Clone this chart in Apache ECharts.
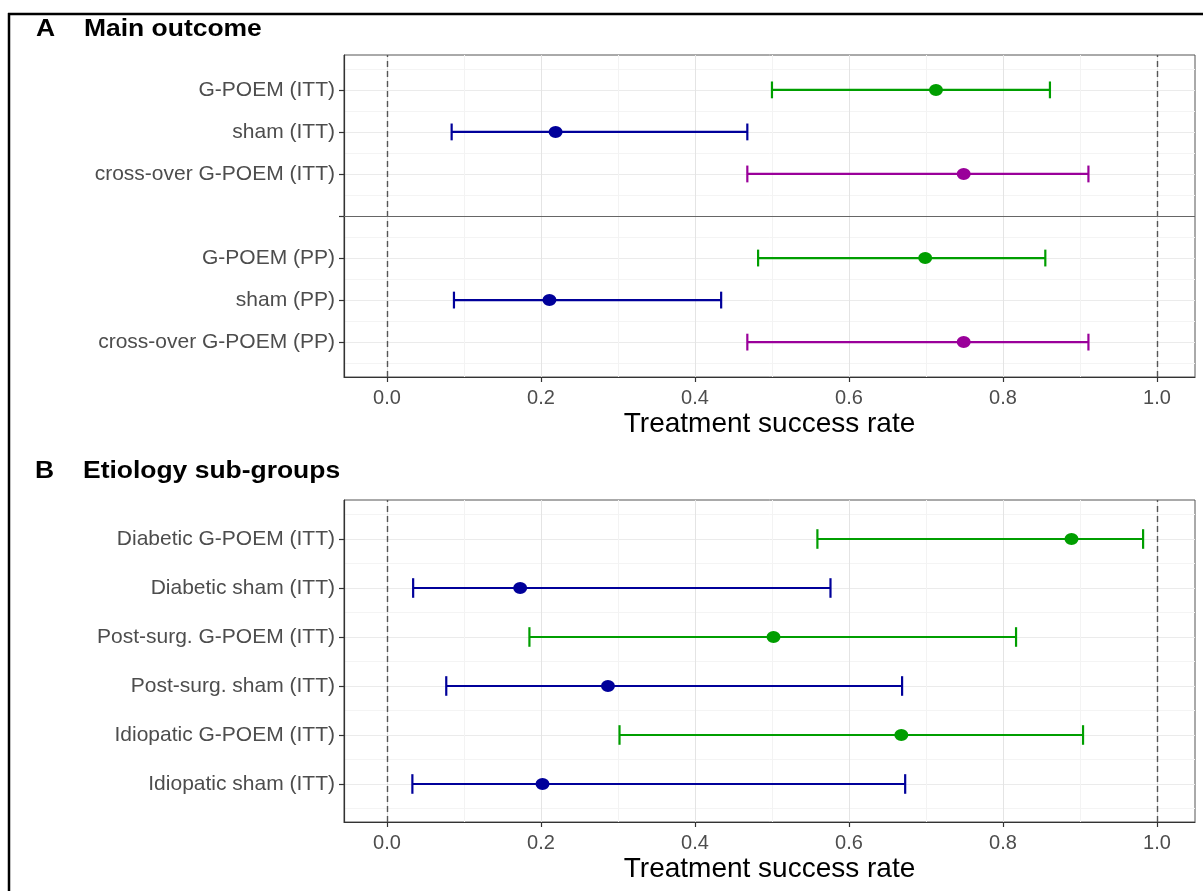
<!DOCTYPE html>
<html>
<head>
<meta charset="utf-8">
<script src="https://cdn.jsdelivr.net/npm/echarts@6/dist/echarts.min.js"></script>
<style>
html,body{margin:0;padding:0;background:#fff;}
#chart{width:1203px;height:891px;}
</style>
</head>
<body>
<div id="chart"></div>
<script>
// ---- Data ----
const panelTitleA = 'Main outcome';
const panelTitleB = 'Etiology sub-groups';
const axisTitle = 'Treatment success rate';

// Panel A (top to bottom; a blank row separates ITT from PP)
const catsA = ['G-POEM (ITT)', 'sham (ITT)', 'cross-over G-POEM (ITT)', 'G-POEM (PP)', 'sham (PP)', 'cross-over G-POEM (PP)'];
const groupA = ['G-POEM', 'sham', 'cross-over', 'G-POEM', 'sham', 'cross-over'];
const estA  = [0.713, 0.219, 0.749, 0.699, 0.211, 0.749];
const lowA  = [0.500, 0.084, 0.468, 0.482, 0.087, 0.468];
const highA = [0.861, 0.468, 0.911, 0.855, 0.434, 0.911];

// Panel B (top to bottom)
const catsB = ['Diabetic G-POEM (ITT)', 'Diabetic sham (ITT)', 'Post-surg. G-POEM (ITT)', 'Post-surg. sham (ITT)', 'Idiopatic G-POEM (ITT)', 'Idiopatic sham (ITT)'];
const groupB = ['G-POEM', 'sham', 'G-POEM', 'sham', 'G-POEM', 'sham'];
const estB  = [0.889, 0.173, 0.502, 0.287, 0.668, 0.202];
const lowB  = [0.559, 0.034, 0.185, 0.077, 0.302, 0.033];
const highB = [0.982, 0.576, 0.817, 0.669, 0.904, 0.673];

const xTicks = [0, 0.2, 0.4, 0.6, 0.8, 1.0];
const refLines = [0, 1];

// ---- Styling ----
const groupColors = { 'G-POEM': '#009E00', 'sham': '#00009A', 'cross-over': '#9A009A' };
const FONT = 'Liberation Sans, Arial, Helvetica, sans-serif';

// row positions on the y scale
const rowsA = catsA.map((c, i) => (i < 3 ? 7 - i : 6 - i));  // 7,6,5 | 3,2,1
const rowsB = catsB.map((c, i) => catsB.length - i);         // 6..1

const labelMapA = {}; catsA.forEach((c, i) => { labelMapA[rowsA[i]] = c; });
const labelMapB = {}; catsB.forEach((c, i) => { labelMapB[rowsB[i]] = c; });

function xAxisFor(gridIndex) {
  return {
    type: 'value', gridIndex: gridIndex,
    min: -0.0558, max: 1.0494, splitNumber: 5,
    name: axisTitle, nameLocation: 'middle', nameGap: 33,
    nameTextStyle: { fontSize: 28, color: '#000', fontFamily: FONT },
    axisLine: { show: true, onZero: false, lineStyle: { color: '#333', width: 1.2 } },
    axisTick: { show: true, length: 5, customValues: xTicks, lineStyle: { color: '#333', width: 1.2 } },
    axisLabel: { customValues: xTicks, margin: 11, fontSize: 20, color: '#4d4d4d', fontFamily: FONT,
      formatter: v => v.toFixed(1) },
    splitLine: { show: true, lineStyle: { color: '#e4e4e4', width: 1 } },
    minorTick: { show: false, splitNumber: 2 },
    minorSplitLine: { show: true, lineStyle: { color: '#f3f3f3', width: 1 } }
  };
}
function yAxisFor(gridIndex, min, max, n, labelMap, tickVals) {
  const labelVals = Object.keys(labelMap).map(Number);
  return {
    type: 'value', gridIndex: gridIndex, min: min, max: max, splitNumber: n,
    axisLine: { show: true, onZero: false, lineStyle: { color: '#333', width: 1.2 } },
    axisTick: { show: true, length: 5, customValues: tickVals, lineStyle: { color: '#333', width: 1.2 } },
    axisLabel: { customValues: labelVals, margin: 9, fontSize: 21, color: '#4d4d4d', fontFamily: FONT,
      formatter: v => labelMap[Math.round(v)] || '' },
    splitLine: { show: true, lineStyle: { color: '#ebebeb', width: 1 } },
    minorTick: { show: false, splitNumber: 2 },
    minorSplitLine: { show: true, lineStyle: { color: '#f4f4f4', width: 1 } }
  };
}

function errorBarSeries(axisIdx, low, high, rows, groups) {
  return {
    type: 'custom', xAxisIndex: axisIdx, yAxisIndex: axisIdx, z: 3,
    data: low.map((l, i) => ({ value: [l, high[i], rows[i]], itemStyle: { color: groupColors[groups[i]] } })),
    renderItem: function (params, api) {
      const y = api.value(2);
      const p1 = api.coord([api.value(0), y]);
      const p2 = api.coord([api.value(1), y]);
      const h = api.size([0, 1])[1] * 0.4;
      const color = api.visual('color');
      const style = { stroke: color, lineWidth: 2.2, fill: null };
      return {
        type: 'group',
        children: [
          { type: 'line', shape: { x1: p1[0], y1: p1[1], x2: p2[0], y2: p2[1] }, style: style },
          { type: 'line', shape: { x1: p1[0], y1: p1[1] - h / 2, x2: p1[0], y2: p1[1] + h / 2 }, style: style },
          { type: 'line', shape: { x1: p2[0], y1: p2[1] - h / 2, x2: p2[0], y2: p2[1] + h / 2 }, style: style }
        ]
      };
    }
  };
}

function pointSeries(axisIdx, est, rows, groups, extraMarkLines) {
  const lines = refLines.map(v => ({ xAxis: v, lineStyle: { color: '#555', width: 1.4, type: [6, 4] } }));
  (extraMarkLines || []).forEach(m => lines.push(m));
  return {
    type: 'scatter', xAxisIndex: axisIdx, yAxisIndex: axisIdx, z: 4,
    symbol: 'circle', symbolSize: [14, 12],
    data: est.map((e, i) => ({ value: [e, rows[i]], itemStyle: { color: groupColors[groups[i]], opacity: 1 } })),
    itemStyle: { opacity: 1 },
    markLine: { silent: true, symbol: 'none', label: { show: false }, animation: false, data: lines }
  };
}

const chart = echarts.init(document.getElementById('chart'), null, { renderer: 'canvas' });
chart.setOption({
  animation: false,
  backgroundColor: '#fff',
  grid: [
    { left: 344, right: 8, top: 55, height: 322, show: true, borderColor: '#555', borderWidth: 1, backgroundColor: '#fff' },
    { left: 344, right: 8, top: 500, height: 322, show: true, borderColor: '#555', borderWidth: 1, backgroundColor: '#fff' }
  ],
  xAxis: [xAxisFor(0), xAxisFor(1)],
  yAxis: [
    yAxisFor(0, 0.17, 7.83, 7, labelMapA, [1, 2, 3, 4, 5, 6, 7]),
    yAxisFor(1, 0.224, 6.796, 6, labelMapB, [1, 2, 3, 4, 5, 6])
  ],
  series: [
    errorBarSeries(0, lowA, highA, rowsA, groupA),
    pointSeries(0, estA, rowsA, groupA, [{ yAxis: 4, lineStyle: { color: '#666', width: 1.2, type: 'solid' } }]),
    errorBarSeries(1, lowB, highB, rowsB, groupB),
    pointSeries(1, estB, rowsB, groupB)
  ],
  graphic: [
    { type: 'line', shape: { x1: 8, y1: 14, x2: 1203, y2: 14 }, style: { stroke: '#000', lineWidth: 2.5 } },
    { type: 'line', shape: { x1: 9, y1: 13, x2: 9, y2: 891 }, style: { stroke: '#000', lineWidth: 2.5 } },
    { type: 'text', left: 36, top: 18, scaleX: 1.15, style: { text: 'A', font: 'bold 23px ' + FONT, fill: '#000' } },
    { type: 'text', left: 84, top: 18, scaleX: 1.15, style: { text: panelTitleA, font: 'bold 23px ' + FONT, fill: '#000' } },
    { type: 'text', left: 35, top: 460, scaleX: 1.15, style: { text: 'B', font: 'bold 23px ' + FONT, fill: '#000' } },
    { type: 'text', left: 83, top: 460, scaleX: 1.15, style: { text: panelTitleB, font: 'bold 23px ' + FONT, fill: '#000' } }
  ]
});
</script>
</body>
</html>
